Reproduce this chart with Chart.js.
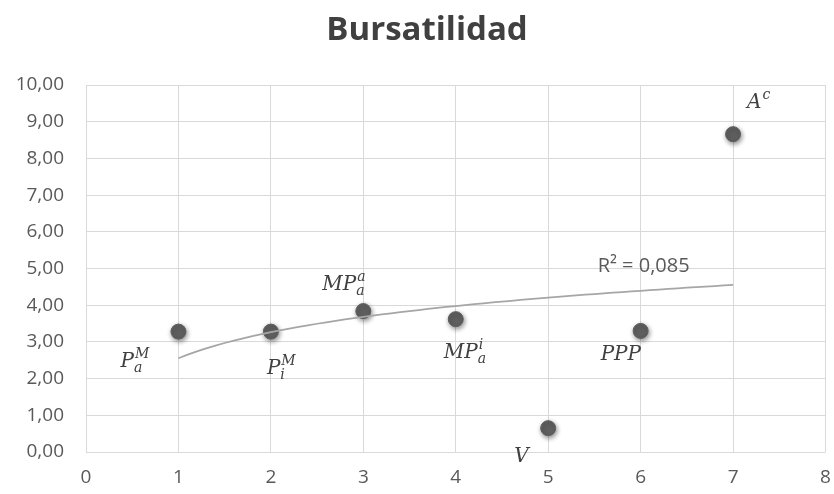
<!DOCTYPE html>
<html>
<head>
<meta charset="utf-8">
<script src="https://cdn.jsdelivr.net/npm/chart.js@4.4.0/dist/chart.umd.min.js"></script>
<style>
  html, body { margin: 0; background: #fff; }
  #wrap { width: 834px; height: 494px; }
</style>
</head>
<body>
<div id="wrap"><canvas id="chart" width="834" height="494"></canvas></div>
<script>
// Bursatilidad por tipo de empresa
const xValues = [1, 2, 3, 4, 5, 6, 7];
const yValues = [3.28, 3.28, 3.84, 3.62, 0.65, 3.30, 8.66];
const pointNames = ['P_a^M', 'P_i^M', 'MP_a^a', 'MP_a^i', 'V', 'PPP', 'A^c'];
const titleText = 'Bursatilidad';
const trendLabel = 'R² = 0,085';

// logarithmic trend line (least squares on ln x)
const lx = xValues.map(Math.log);
const mx = lx.reduce((a, b) => a + b, 0) / lx.length;
const my = yValues.reduce((a, b) => a + b, 0) / yValues.length;
let sxy = 0, sxx = 0;
lx.forEach((v, i) => { sxy += (v - mx) * (yValues[i] - my); sxx += (v - mx) * (v - mx); });
const slope = sxy / sxx;
const intercept = my - slope * mx;
const trendPoints = [];
for (let x = xValues[0]; x <= xValues[xValues.length - 1] + 1e-9; x += 0.1) {
  trendPoints.push({ x: x, y: intercept + slope * Math.log(x) });
}

const grey = '#595959';
const sansFont = '"Open Sans", sans-serif';

// label offsets from each point, in pixels (baseline-left)
const labelOffsets = [[-58, 35], [-4, 42], [-41, -21], [-12, 39], [-34, 34], [-40, 29], [14, -26]];

function drawMath(ctx, src, x, y) {
  const re = /([^_^])(?:_(\w))?(?:\^(\w))?/g;
  let m;
  while ((m = re.exec(src)) !== null) {
    ctx.font = 'italic 20px "DejaVu Serif"';
    ctx.fillText(m[1], x, y);
    x += ctx.measureText(m[1]).width;
    ctx.font = 'italic 14px "DejaVu Serif"';
    let w = 0;
    if (m[2]) { ctx.fillText(m[2], x, y + 5); w = Math.max(w, ctx.measureText(m[2]).width); }
    if (m[3]) { ctx.fillText(m[3], x + 1, y - 9); w = Math.max(w, ctx.measureText(m[3]).width + 1); }
    x += w ? w + 1 : 0;
  }
}

const extras = {
  id: 'extras',
  beforeDatasetDraw(chart, args) {
    if (args.index === 1) {
      const ctx = chart.ctx;
      ctx.save();
      ctx.shadowColor = 'rgba(0,0,0,0.45)';
      ctx.shadowBlur = 5;
      ctx.shadowOffsetX = 1;
      ctx.shadowOffsetY = 2;
    }
  },
  afterDatasetDraw(chart, args) {
    if (args.index === 1) chart.ctx.restore();
  },
  afterDraw(chart) {
    const ctx = chart.ctx;
    const xs = chart.scales.x, ys = chart.scales.y;
    ctx.save();
    // title
    ctx.fillStyle = '#404040';
    ctx.font = 'bold 33px ' + sansFont;
    ctx.textAlign = 'center';
    ctx.textBaseline = 'middle';
    ctx.fillText(titleText, 427, 31);

    // point names
    ctx.textAlign = 'left';
    ctx.textBaseline = 'alphabetic';
    ctx.fillStyle = '#404040';
    xValues.forEach((v, i) => {
      const px = xs.getPixelForValue(v), py = ys.getPixelForValue(yValues[i]);
      drawMath(ctx, pointNames[i], px + labelOffsets[i][0], py + labelOffsets[i][1]);
    });

    // R² label near the end of the trend line
    ctx.fillStyle = grey;
    ctx.font = '20px ' + sansFont;
    ctx.textBaseline = 'middle';
    const last = trendPoints[trendPoints.length - 1];
    ctx.fillText(trendLabel, xs.getPixelForValue(6) - 43, ys.getPixelForValue(last.y) - 19);
    ctx.restore();
  }
};

new Chart(document.getElementById('chart'), {
  type: 'scatter',
  data: {
    datasets: [
      {
        label: 'tendencia',
        data: trendPoints,
        showLine: true,
        borderColor: '#a6a6a6',
        borderWidth: 1.75,
        pointRadius: 0,
        tension: 0
      },
      {
        label: 'Bursatilidad',
        data: xValues.map((x, i) => ({ x: x, y: yValues[i] })),
        backgroundColor: '#5f5f5f',
        borderColor: '#5f5f5f',
        pointRadius: 7.5,
        pointHoverRadius: 7.5
      }
    ]
  },
  options: {
    responsive: false,
    animation: false,
    devicePixelRatio: 1,
    layout: { padding: { top: 85, right: 8, left: 0, bottom: 0 } },
    plugins: {
      legend: { display: false },
      tooltip: { enabled: false },
      title: { display: false }
    },
    scales: {
      x: {
        type: 'linear',
        min: 0,
        max: 8,
        ticks: { stepSize: 1, color: grey, font: { family: sansFont, size: 19 }, padding: 14 },
        grid: { color: '#d9d9d9', drawTicks: false },
        border: { display: false },
        afterFit(s) { s.height = 42; s.paddingLeft = 0; s.paddingRight = 0; }
      },
      y: {
        min: 0,
        max: 10,
        ticks: {
          stepSize: 1,
          color: grey,
          font: { family: sansFont, size: 19 },
          padding: 22,
          callback: v => v.toFixed(2).replace('.', ',')
        },
        grid: { color: '#d9d9d9', drawTicks: false },
        border: { display: false },
        afterFit(s) { s.width = 86; s.paddingTop = 0; s.paddingBottom = 0; }
      }
    }
  },
  plugins: [extras]
});
</script>
</body>
</html>
